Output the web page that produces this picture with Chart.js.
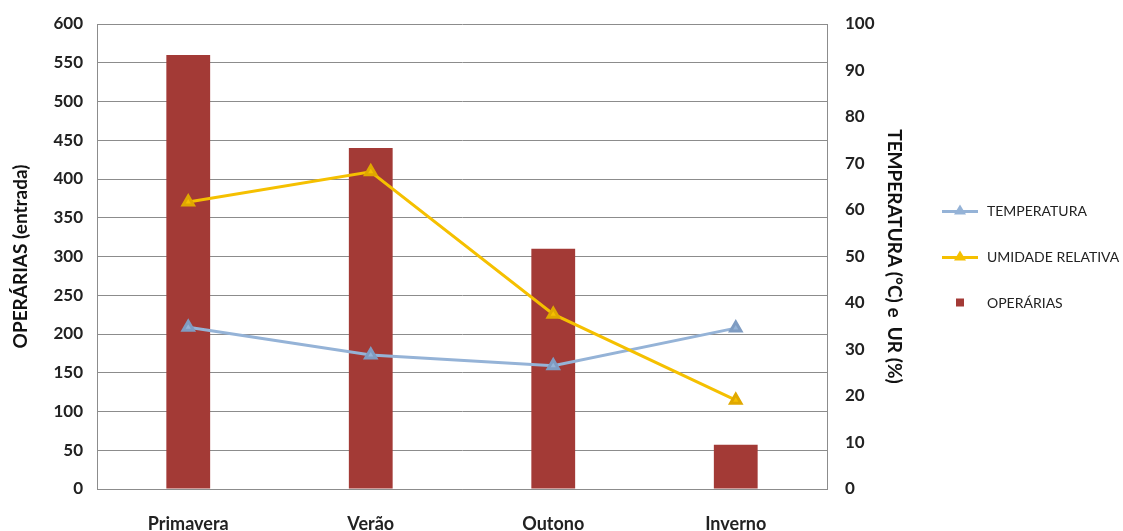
<!DOCTYPE html>
<html>
<head>
<meta charset="utf-8">
<script src="https://cdn.jsdelivr.net/npm/chart.js@4"></script>
<style>
  html, body { margin: 0; padding: 0; background: #fff; }
  #wrap { width: 1123px; height: 531px; }
</style>
</head>
<body>
<div id="wrap"><canvas id="chart" width="1123" height="531"></canvas></div>
<script>
// Data
const estacoes = ['Primavera', 'Verão', 'Outono', 'Inverno'];
const operarias = [560, 440, 310, 57];
const temperatura = [34.8, 28.8, 26.5, 34.6];
const umidade = [61.7, 68.2, 37.6, 19.1];

const ticksEsq = [0, 50, 100, 150, 200, 250, 300, 350, 400, 450, 500, 550, 600];
const ticksDir = [0, 10, 20, 30, 40, 50, 60, 70, 80, 90, 100];

const FONT = 'Lato, "Open Sans", sans-serif';
const GRID = '#8c8c8c';
const AZUL = '#95b3d7';
const AMARELO = '#f5c000';
const VERMELHO = '#a33a36';

const ctx = document.getElementById('chart').getContext('2d');

// bar shading: darker edges, lighter middle
function barFill(context) {
  const el = context.element;
  if (!el || el.width === undefined) return VERMELHO;
  const x0 = el.x - el.width / 2, x1 = el.x + el.width / 2;
  const gr = context.chart.ctx.createLinearGradient(x0, 0, x1, 0);
  gr.addColorStop(0, '#862622');
  gr.addColorStop(0.25, '#a63b37');
  gr.addColorStop(0.75, '#a63b37');
  gr.addColorStop(1, '#862622');
  return gr;
}

// legend drawn by hand: the built-in one gets squeezed on the right side
const legendaLateral = {
  id: 'legendaLateral',
  afterDraw(chart) {
    const g = chart.ctx;
    const area = chart.chartArea;
    const x = area.right + 115;
    const yMid = (area.top + area.bottom) / 2;
    chart.data.datasets.forEach((ds, i) => {
      const y = yMid + (i - 1) * 46;
      const cor = ds.type === 'bar' ? VERMELHO : ds.borderColor;
      g.save();
      if (ds.type === 'line') {
        g.strokeStyle = cor; g.lineWidth = 3;
        g.beginPath(); g.moveTo(x, y + 1); g.lineTo(x + 36, y + 1); g.stroke();
        g.fillStyle = cor;
        g.beginPath(); g.moveTo(x + 18, y - 6); g.lineTo(x + 24, y + 4); g.lineTo(x + 12, y + 4); g.closePath(); g.fill();
      } else {
        g.fillStyle = cor;
        g.fillRect(x + 14, y - 4, 8, 8);
      }
      g.fillStyle = '#222';
      g.font = '14px ' + FONT;
      g.textBaseline = 'middle';
      g.fillText(ds.label, x + 45, y + 1);
      g.restore();
    });
  }
};

const tickFont = { family: FONT, size: 17, weight: 'bold' };
const titleFont = { family: FONT, size: 19, weight: 'bold' };

// fixed axis sizes, no extra room for the end labels
function fixWidth(w) {
  return (s) => { s.width = w; s.paddingTop = 0; s.paddingBottom = 0; };
}

const chart = new Chart(ctx, {
  data: {
    labels: estacoes,
    datasets: [
      {
        type: 'line',
        label: 'TEMPERATURA',
        data: temperatura,
        yAxisID: 'y1',
        borderColor: AZUL,
        backgroundColor: AZUL,
        borderWidth: 3,
        pointStyle: 'triangle',
        pointRadius: 6,
        pointBorderColor: '#7f9cc2',
        pointBackgroundColor: AZUL,
        tension: 0,
        order: 1
      },
      {
        type: 'line',
        label: 'UMIDADE RELATIVA',
        data: umidade,
        yAxisID: 'y1',
        borderColor: AMARELO,
        backgroundColor: AMARELO,
        borderWidth: 3,
        pointStyle: 'triangle',
        pointRadius: 6,
        pointBorderColor: '#e0a800',
        pointBackgroundColor: AMARELO,
        tension: 0,
        order: 0
      },
      {
        type: 'bar',
        label: 'OPERÁRIAS',
        data: operarias,
        yAxisID: 'y',
        backgroundColor: barFill,
        borderWidth: 0,
        barPercentage: 0.24,
        categoryPercentage: 1,
        order: 2
      }
    ]
  },
  options: {
    responsive: false,
    animation: false,
    layout: { padding: { top: 24, right: 210, bottom: 0, left: 9 } },
    plugins: {
      tooltip: { enabled: false },
      legend: { display: false }
    },
    scales: {
      x: {
        grid: { display: false, drawTicks: false },
        border: { display: true, color: GRID },
        ticks: { color: '#222', font: { family: FONT, size: 18, weight: 'bold' }, padding: 24 },
        afterFit: (s) => { s.height = 42; }
      },
      y: {
        position: 'left',
        min: 0, max: 600,
        afterBuildTicks: (s) => { s.ticks = ticksEsq.map(v => ({ value: v })); },
        grid: { color: GRID, drawTicks: false },
        border: { display: true, color: GRID },
        ticks: { color: '#222', font: tickFont, padding: 14 },
        title: {
          display: true,
          text: 'OPERÁRIAS (entrada)',
          color: '#111',
          font: titleFont,
          padding: { top: 0, bottom: 10 }
        },
        afterFit: fixWidth(88)
      },
      y1: {
        position: 'right',
        min: 0, max: 100,
        afterBuildTicks: (s) => { s.ticks = ticksDir.map(v => ({ value: v })); },
        grid: { display: false, drawTicks: false },
        border: { display: true, color: GRID },
        ticks: { color: '#222', font: tickFont, padding: 18 },
        title: {
          display: true,
          text: 'TEMPERATURA (°C) e  UR (%)',
          color: '#111',
          font: titleFont,
          padding: { top: 7, bottom: 0 }
        },
        afterFit: fixWidth(86)
      }
    }
  },
  plugins: [legendaLateral]
});
</script>
</body>
</html>
